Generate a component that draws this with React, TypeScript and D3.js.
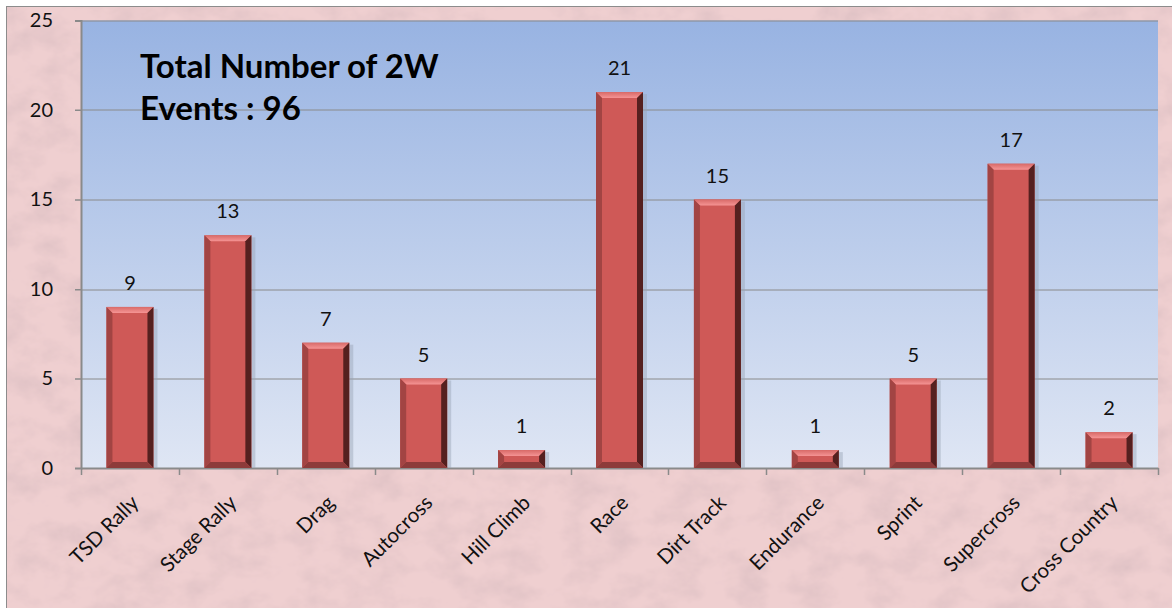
import React, { useEffect, useRef } from 'react';
import * as d3 from 'd3';

const categories = ['TSD Rally', 'Stage Rally', 'Drag', 'Autocross', 'Hill Climb', 'Race', 'Dirt Track', 'Endurance', 'Sprint', 'Supercross', 'Cross Country'];
const events = [9, 13, 7, 5, 1, 21, 15, 1, 5, 17, 2];
const yTicks = [0, 5, 10, 15, 20, 25];
const titleLines = ['Total Number of 2W', 'Events : 96'];

const W = 1172, H = 608;
const FONT = 'Lato, "Open Sans", sans-serif';

function App() {
  const ref = useRef<SVGSVGElement>(null);

  useEffect(() => {
    const svg = d3.select(ref.current);
    svg.selectAll('*').remove();

    const margin = { top: 20.5, right: 14, bottom: 140, left: 81 };
    const width = W - margin.left - margin.right;
    const height = H - margin.top - margin.bottom;

    const defs = svg.append('defs');

    // pink marble background
    const tex = defs.append('filter').attr('id', 'marble').attr('x', 0).attr('y', 0).attr('width', 1).attr('height', 1);
    tex.append('feTurbulence').attr('type', 'fractalNoise').attr('baseFrequency', '0.03 0.04').attr('numOctaves', 4).attr('seed', 11).attr('result', 'noise');
    tex.append('feColorMatrix').attr('in', 'noise').attr('type', 'matrix')
      .attr('values', '0 0 0 0 0.74  0 0 0 0 0.54  0 0 0 0 0.56  1.8 0 0 0 -0.7')
      .attr('result', 'tint');
    tex.append('feComposite').attr('in', 'tint').attr('in2', 'SourceGraphic').attr('operator', 'atop');

    const plotGrad = defs.append('linearGradient').attr('id', 'plotBg').attr('x1', 0).attr('y1', 0).attr('x2', 0).attr('y2', 1);
    plotGrad.append('stop').attr('offset', '0%').attr('stop-color', '#98b3e2');
    plotGrad.append('stop').attr('offset', '100%').attr('stop-color', '#dfe6f4');

    const topGrad = defs.append('linearGradient').attr('id', 'bevTop').attr('x1', 0).attr('y1', 0).attr('x2', 0).attr('y2', 1);
    topGrad.append('stop').attr('offset', '0%').attr('stop-color', '#d86a68');
    topGrad.append('stop').attr('offset', '100%').attr('stop-color', '#f59494');

    svg.append('rect').attr('x', 0).attr('y', 0).attr('width', W).attr('height', H).attr('fill', '#ffffff');
    svg.append('rect').attr('x', 6.5).attr('y', 6.5).attr('width', W).attr('height', H)
      .attr('fill', '#efcfd0')
      .attr('filter', 'url(#marble)');
    svg.append('rect').attr('x', 6.5).attr('y', 6.5).attr('width', W).attr('height', H)
      .attr('fill', 'none').attr('stroke', '#8c8c8c').attr('stroke-width', 1);

    const g = svg.append('g').attr('transform', `translate(${margin.left},${margin.top})`);

    const x = d3.scaleBand<string>().domain(categories).range([0, width]).padding(0);
    const y = d3.scaleLinear().domain([0, 25]).range([height, 0]);

    g.append('rect').attr('width', width).attr('height', height).attr('fill', 'url(#plotBg)');

    // grid
    g.selectAll('.grid').data(yTicks.filter(t => t > 0)).enter().append('line')
      .attr('x1', -6).attr('x2', width)
      .attr('y1', d => Math.round(y(d)) + 0.5).attr('y2', d => Math.round(y(d)) + 0.5)
      .attr('stroke', '#8a8a8a').attr('stroke-width', 1);

    // y axis
    const yAxis = g.append('g').call(d3.axisLeft(y).tickValues(yTicks).tickSize(6).tickPadding(22));
    yAxis.select('.domain').attr('stroke', '#8a8a8a').attr('stroke-width', 2);
    yAxis.selectAll('.tick line').attr('stroke', '#8a8a8a');
    yAxis.selectAll('.tick text').attr('font-family', FONT).attr('font-size', 20).attr('fill', '#111');

    // x axis
    const xAxis = g.append('g').attr('transform', `translate(0,${height})`)
      .call(d3.axisBottom(x).tickSize(0).tickFormat(() => ''));
    xAxis.select('.domain').attr('stroke', '#8a8a8a').attr('stroke-width', 2);
    g.selectAll('.xtick').data(d3.range(categories.length + 1)).enter().append('line')
      .attr('x1', i => Math.round(i * x.step()) + 0.5).attr('x2', i => Math.round(i * x.step()) + 0.5)
      .attr('y1', height).attr('y2', height + 7)
      .attr('stroke', '#8a8a8a').attr('stroke-width', 1.5);

    g.selectAll('.xlab').data(categories).enter().append('text')
      .attr('transform', d => `translate(${(x(d) as number) + x.bandwidth() / 2 + 5},${height + 31}) rotate(-45)`)
      .attr('text-anchor', 'end')
      .attr('dy', '0.35em')
      .attr('font-family', FONT).attr('font-size', 20.5).attr('fill', '#111')
      .text(d => d);

    // bars
    const bw = x.bandwidth() * 0.48;
    const bev = 6;
    const bars = g.selectAll('.bar').data(categories).enter().append('g')
      .attr('transform', d => `translate(${(x(d) as number) + (x.bandwidth() - bw) / 2},0)`);

    events.forEach((v, i) => {
      const b = d3.select(bars.nodes()[i] as SVGGElement);
      const top = y(v), bot = y(0);
      const h = bot - top;
      b.append('rect').attr('x', bw).attr('y', top + 2).attr('width', 4).attr('height', h - 2).attr('fill', '#9aa3b5').attr('opacity', 0.45);
      b.append('rect').attr('x', 0).attr('y', top).attr('width', bw).attr('height', h).attr('fill', '#cf5957');
      const poly = (pts: number[][], fill: string) => b.append('polygon').attr('points', pts.map(p => p.join(',')).join(' ')).attr('fill', fill);
      poly([[0, top], [bw, top], [bw - bev, top + bev], [bev, top + bev]], 'url(#bevTop)');
      poly([[0, top], [bev, top + bev], [bev, bot - bev], [0, bot]], '#a24443');
      poly([[bw, top], [bw, bot], [bw - bev, bot - bev], [bw - bev, top + bev]], '#55201f');
      poly([[0, bot], [bev, bot - bev], [bw - bev, bot - bev], [bw, bot]], '#8d3b3a');
      b.append('text').attr('x', bw / 2).attr('y', top - 17)
        .attr('text-anchor', 'middle').attr('font-family', FONT).attr('font-size', 20).attr('fill', '#111')
        .text(v);
    });

    // title
    const t = g.append('text').attr('font-family', FONT).attr('font-weight', 'bold').attr('font-size', 33).attr('fill', '#000');
    titleLines.forEach((line, i) => {
      t.append('tspan').attr('x', 59).attr('y', 57 + i * 42).text(line);
    });
  }, []);

  return <svg ref={ref} width={W} height={H} style={{ position: 'absolute', left: 0, top: 0, display: 'block' }} />;
}

export default App;
